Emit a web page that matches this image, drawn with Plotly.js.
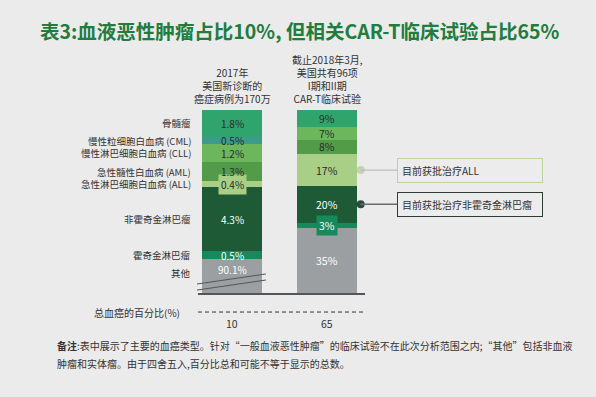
<!DOCTYPE html>
<html>
<head>
<meta charset="utf-8">
<script src="https://cdn.plot.ly/plotly-3.0.1.min.js"></script>
<style>html,body{margin:0;padding:0;background:#ebebeb;}#chart{width:596px;height:397px;}</style>
</head>
<body>
<div id="chart"></div>
<script>
// ---- data (bottom to top) ----
const categories = ['其他','霍奇金淋巴瘤','非霍奇金淋巴瘤','急性淋巴细胞白血病 (ALL)','急性髓性白血病 (AML)','慢性淋巴细胞白血病 (CLL)','慢性粒细胞白血病 (CML)','骨髓瘤'];
const newCasesPct = [90.1, 0.5, 4.3, 0.4, 1.3, 1.2, 0.5, 1.8];   // 2017 new cancer cases (%)
const trialsPct   = [35, 3, 20, 17, 8, 7, 0, 9];                  // CAR-T trials (%)
const barTotals = ['10', '65'];
const barHeaders = ['2017年<br>美国新诊断的<br>癌症病例为170万', '截止2018年3月,<br>美国共有96项<br>I期和II期<br>CAR-T临床试验'];
const callouts = [{cat: 3, text: '目前获批治疗ALL'}, {cat: 2, text: '目前获批治疗非霍奇金淋巴瘤'}];
const titleText = '表3:血液恶性肿瘤占比10%, 但相关CAR-T临床试验占比65%';
const xAxisLabel = '总血癌的百分比(%)';
const note1 = '<b>备注</b>:表中展示了主要的血癌类型。针对“一般血液恶性肿瘤”的临床试验不在此次分析范围之内;“其他”包括非血液';
const note2 = '肿瘤和实体瘤。由于四舍五入,百分比总和可能不等于显示的总数。';

// ---- styles ----
const FONT = 'Noto Sans CJK SC, Noto Sans, sans-serif';
const segColors = ['#9c9fa1','#168a5c','#1e5a35','#a8cf85','#529b49','#6cb65b','#3d9b8c','#2fa56d'];
const labelColors = ['#ffffff','#ffffff','#ffffff','#2b2b2b','#2b2b2b','#2b2b2b','#2b2b2b','#2b2b2b'];
const calloutBorder = ['#b9d59d', '#2d3d33'];
const calloutLine = ['#bdbdbd', '#6b6b6b'];
const dotColors = ['#c3d3b0', '#2c4d3c'];
const BARW = 0.63;

const traces = [];
const annotations = [];
let cumL = 0, cumR = 0;
const midR = [];
categories.forEach((c, i) => {
  const vL = newCasesPct[i];
  traces.push({type:'bar', x:[0], y:[vL], yaxis:'y', width:BARW, name:c,
    marker:{color:segColors[i], line:{width:0}}, hoverinfo:'skip', showlegend:false});
  if (i === 0) {
    annotations.push({x:0, y:cumL + vL, xref:'x', yref:'y', yanchor:'top', yshift:-1,
      text:vL.toFixed(1)+'%', showarrow:false, font:{size:10, color:labelColors[i], family:FONT}});
    annotations.push({xref:'paper', x:-0.03, xanchor:'right', y:cumL + vL, yref:'y', yanchor:'top', yshift:-5,
      text:c, showarrow:false, font:{size:9.5, color:'#333', family:FONT}});
  } else {
    const small = vL < 0.45;
    annotations.push({x:0, y:cumL + vL/2, xref:'x', yref:'y', text:vL.toFixed(1)+'%', showarrow:false,
      bgcolor: small ? segColors[i] : 'rgba(0,0,0,0)', borderpad: small ? 2 : 0,
      font:{size:10, color:labelColors[i], family:FONT}});
    annotations.push({xref:'paper', x:-0.03, xanchor:'right', y:cumL + vL/2, yref:'y',
      text:c, showarrow:false, font:{size:9.5, color:'#333', family:FONT}});
  }
  cumL += vL;

  const vR = trialsPct[i];
  midR.push(cumR + vR/2);
  if (vR > 0) {
    traces.push({type:'bar', x:[1], y:[vR], yaxis:'y2', width:BARW, name:c,
      marker:{color:segColors[i], line:{width:0}}, hoverinfo:'skip', showlegend:false});
    const small = vR < 5;
    annotations.push({x:1, y:cumR + vR/2, xref:'x', yref:'y2', text:vR+'%', showarrow:false,
      bgcolor: small ? segColors[i] : 'rgba(0,0,0,0)', borderpad: small ? 2 : 0,
      font:{size:10.5, color:labelColors[i], family:FONT}});
  }
  cumR += vR;
});

// callout dots + boxes
const dotX = 1 + BARW/2 + 0.035;
traces.push({type:'scatter', mode:'markers', x:callouts.map(()=>dotX), y:callouts.map(o=>midR[o.cat]),
  yaxis:'y2', cliponaxis:false, hoverinfo:'skip', showlegend:false,
  marker:{size:8, color:dotColors}});
callouts.forEach((o, k) => {
  annotations.push({x:dotX, y:midR[o.cat], xref:'x', yref:'y2', text:o.text, showarrow:true,
    arrowhead:0, arrowwidth:1.3, arrowcolor:calloutLine[k], axref:'pixel', ayref:'pixel', ax:109, ay:0,
    width:136, align:'left', bordercolor:calloutBorder[k], borderwidth:1, borderpad:4, bgcolor:'#ececec',
    font:{size:10, color:'#333', family:FONT}});
});

// headers & totals
barHeaders.forEach((h, i) => {
  annotations.push({x:i, xref:'x', y:1, yref:'paper', yanchor:'bottom', yshift:2, text:h, showarrow:false,
    align:'center', font:{size:10, color:'#333', family:FONT}});
  annotations.push({x:i, xref:'x', y:0, yref:'paper', yanchor:'top', yshift:-21, text:barTotals[i], showarrow:false,
    font:{size:10.5, color:'#333', family:FONT}});
});
annotations.push({xref:'paper', x:-0.096, xanchor:'right', yref:'paper', y:-0.104, yanchor:'middle',
  text:xAxisLabel, showarrow:false, font:{size:10, color:'#333', family:FONT}});
annotations.push({xref:'paper', x:-0.858, xanchor:'left', yref:'paper', y:-(345-293)/183, yanchor:'middle',
  text:note1, showarrow:false, font:{size:10, color:'#333', family:FONT}});
annotations.push({xref:'paper', x:-0.858, xanchor:'left', yref:'paper', y:-(363-293)/183, yanchor:'middle',
  text:note2, showarrow:false, font:{size:10, color:'#333', family:FONT}});

const shapes = [
  {type:'line', xref:'paper', yref:'paper', x0:0, x1:1, y0:-0.104, y1:-0.104, line:{color:'#333', width:1, dash:'4px,3px'}},
  {type:'line', xref:'paper', yref:'paper', x0:-0.006, x1:0.407, y0:0.049, y1:0.104, line:{color:'#555', width:1}},
  {type:'line', xref:'paper', yref:'paper', x0:-0.006, x1:0.407, y0:0.016, y1:0.071, line:{color:'#555', width:1}}
];

const layout = {
  width:596, height:397,
  paper_bgcolor:'#ebebeb', plot_bgcolor:'rgba(0,0,0,0)',
  margin:{l:198, r:231, t:110, b:104, pad:0},
  barmode:'stack', showlegend:false,
  font:{family:FONT, color:'#333'},
  title:{text:'<b>'+titleText+'</b>', font:{size:19.5, color:'#217c3d', family:FONT},
    xref:'container', x:40/596, xanchor:'left', yref:'container', y:1-32/397, yanchor:'middle'},
  xaxis:{range:[-0.358, 1.395], showgrid:false, zeroline:false, showticklabels:false, ticks:'',
    showline:true, linecolor:'#555', linewidth:1.5, fixedrange:true},
  yaxis:{range:[87.8, 100.1], visible:false, fixedrange:true},
  yaxis2:{range:[0, 99], overlaying:'y', visible:false, fixedrange:true},
  annotations:annotations, shapes:shapes
};

Plotly.newPlot('chart', traces, layout, {displayModeBar:false, staticPlot:true});
</script>
</body>
</html>
